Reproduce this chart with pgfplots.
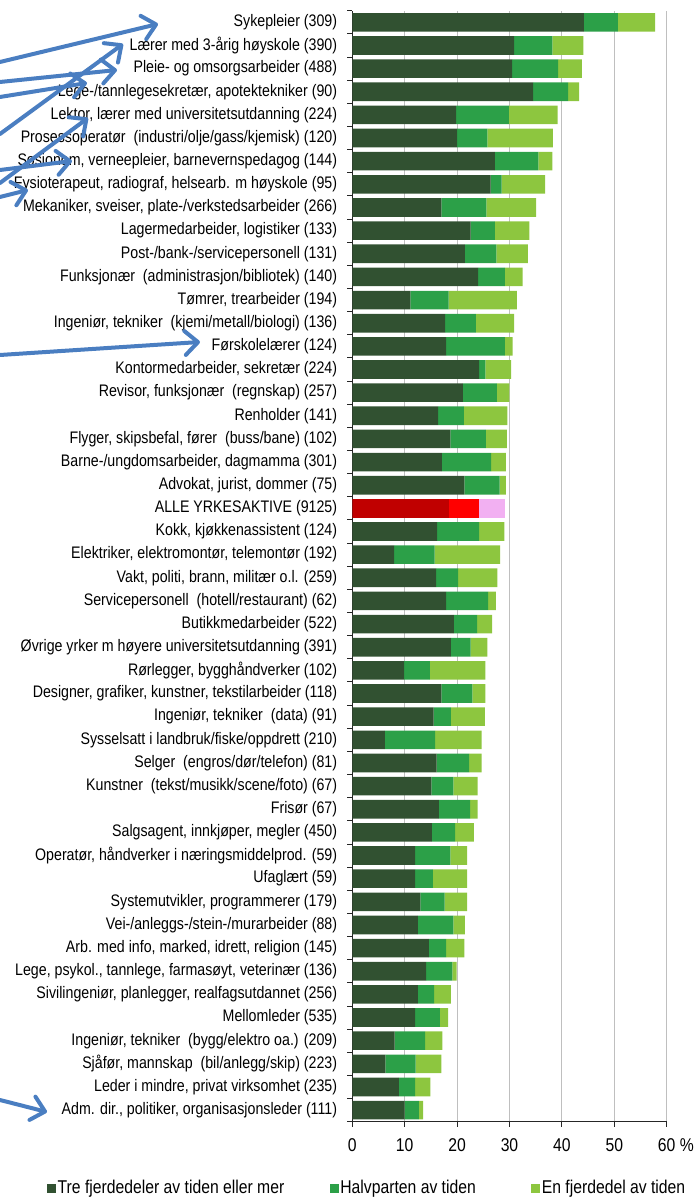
\documentclass[border=0pt]{standalone}
\usepackage{pgfplots}
\pgfplotsset{compat=1.18}
\usepackage{pgfplotstable}
\usepackage{fontspec}
\setmainfont{Liberation Sans}
\newfontfamily\labfont{Liberation Sans}[FakeStretch=0.85]
\usetikzlibrary{arrows.meta}

\definecolor{dg}{RGB}{49,81,49}
\definecolor{mg}{RGB}{44,160,72}
\definecolor{lg}{RGB}{141,198,63}
\definecolor{rd}{RGB}{192,0,0}
\definecolor{rr}{RGB}{255,0,0}
\definecolor{pk}{RGB}{242,176,242}
\definecolor{ab}{RGB}{74,126,193}

\pgfplotstableread{
y a b c r1 r2 r3
0 10.0 2.7 0.8 0 0 0
1 8.9 3.1 2.9 0 0 0
2 6.3 5.8 4.9 0 0 0
3 8.1 5.8 3.3 0 0 0
4 12.0 4.7 1.6 0 0 0
5 12.5 3.1 3.2 0 0 0
6 14.1 5.0 0.8 0 0 0
7 14.6 3.3 3.5 0 0 0
8 12.5 6.8 2.2 0 0 0
9 13.0 4.6 4.3 0 0 0
10 12.0 3.4 6.5 0 0 0
11 12.0 6.7 3.2 0 0 0
12 15.2 4.4 3.6 0 0 0
13 16.5 6.0 1.4 0 0 0
14 15.1 4.2 4.6 0 0 0
15 16.1 6.2 2.4 0 0 0
16 6.2 9.6 8.9 0 0 0
17 15.5 3.3 6.5 0 0 0
18 17.0 5.9 2.5 0 0 0
19 9.9 4.9 10.6 0 0 0
20 18.8 3.8 3.2 0 0 0
21 19.4 4.4 2.9 0 0 0
22 17.9 8.0 1.5 0 0 0
23 16.0 4.2 7.5 0 0 0
24 8.0 7.7 12.5 0 0 0
25 16.2 8.0 4.8 0 0 0
26 0 0 0 18.4 5.8 5.0
27 21.4 6.7 1.2 0 0 0
28 17.1 9.4 2.8 0 0 0
29 18.7 6.8 4.0 0 0 0
30 16.4 4.9 8.3 0 0 0
31 21.1 6.5 2.4 0 0 0
32 24.2 1.2 4.9 0 0 0
33 17.9 11.2 1.5 0 0 0
34 17.7 5.9 7.3 0 0 0
35 11.1 7.3 13.0 0 0 0
36 24.0 5.1 3.4 0 0 0
37 21.5 6.0 6.0 0 0 0
38 22.6 4.6 6.6 0 0 0
39 17.0 8.6 9.5 0 0 0
40 26.4 2.1 8.3 0 0 0
41 27.2 8.3 2.7 0 0 0
42 20.0 5.8 12.5 0 0 0
43 19.8 10.1 9.3 0 0 0
44 34.5 6.7 2.1 0 0 0
45 30.5 8.8 4.5 0 0 0
46 30.9 7.3 5.9 0 0 0
47 44.2 6.5 7.1 0 0 0
}\data

\begin{document}
\begin{tikzpicture}
\begin{axis}[
  at={(352.3pt,80.3pt)}, anchor=south west,
  scale only axis, width=314.4pt, height=1111pt,
  xbar stacked, bar width=18.6pt,
  xmin=0, xmax=60, ymin=-0.5, ymax=47.5, enlargelimits=false,
  xtick={0,10,...,60},
  xticklabels={0,10,20,30,40,50,{60\rlap{ \%}}},
  ytick={0,...,47},
  yticklabels={
{Adm. dir., politiker, organisasjonsleder (111)},
{Leder i mindre, privat virksomhet (235)},
{Sjåfør, mannskap~ (bil/anlegg/skip) (223)},
{Ingeniør, tekniker~ (bygg/elektro oa.) (209)},
{Mellomleder (535)},
{Sivilingeniør, planlegger, realfagsutdannet (256)},
{Lege, psykol., tannlege, farmasøyt, veterinær (136)},
{Arb. med info, marked, idrett, religion (145)},
{Vei-/anleggs-/stein-/murarbeider (88)},
{Systemutvikler, programmerer (179)},
{Ufaglært (59)},
{Operatør, håndverker i næringsmiddelprod. (59)},
{Salgsagent, innkjøper, megler (450)},
{Frisør (67)},
{Kunstner~ (tekst/musikk/scene/foto) (67)},
{Selger~ (engros/dør/telefon) (81)},
{Sysselsatt i landbruk/fiske/oppdrett (210)},
{Ingeniør, tekniker~ (data) (91)},
{Designer, grafiker, kunstner, tekstilarbeider (118)},
{Rørlegger, bygghåndverker (102)},
{Øvrige yrker m høyere universitetsutdanning (391)},
{Butikkmedarbeider (522)},
{Servicepersonell~ (hotell/restaurant) (62)},
{Vakt, politi, brann, militær o.l. (259)},
{Elektriker, elektromontør, telemontør (192)},
{Kokk, kjøkkenassistent (124)},
{ALLE YRKESAKTIVE (9125)},
{Advokat, jurist, dommer (75)},
{Barne-/ungdomsarbeider, dagmamma (301)},
{Flyger, skipsbefal, fører~ (buss/bane) (102)},
{Renholder (141)},
{Revisor, funksjonær~ (regnskap) (257)},
{Kontormedarbeider, sekretær (224)},
{Førskolelærer (124)},
{Ingeniør, tekniker~ (kjemi/metall/biologi) (136)},
{Tømrer, trearbeider (194)},
{Funksjonær~ (administrasjon/bibliotek) (140)},
{Post-/bank-/servicepersonell (131)},
{Lagermedarbeider, logistiker (133)},
{Mekaniker, sveiser, plate-/verkstedsarbeider (266)},
{Fysioterapeut, radiograf, helsearb. m høyskole (95)},
{Sosionom, verneepleier, barnevernspedagog (144)},
{Prosessoperatør~ (industri/olje/gass/kjemisk) (120)},
{Lektor, lærer med universitetsutdanning (224)},
{Lege-/tannlegesekretær, apotektekniker (90)},
{Pleie- og omsorgsarbeider (488)},
{Lærer med 3-årig høyskole (390)},
{Sykepleier (309)}},
  minor ytick={-0.5,0.5,...,47.5},
  axis lines*=left,
  axis line style={black!85, line width=1pt, -},
  tick align=outside, tick pos=left,
  major tick length=5pt, minor tick length=5pt,
  tick style={black!85, line width=0.9pt},
  every major y tick/.append style={draw=none},
  xmajorgrids,
  major grid style={draw=black!25, line width=0.9pt},
  yticklabel style={font=\fontsize{16.7}{18}\labfont, anchor=east, inner sep=0pt, xshift=-10pt},
  xticklabel style={font=\fontsize{18.5}{20}\labfont, anchor=north, inner sep=0pt, yshift=-12pt},
  legend columns=3,
  legend style={at={(axis description cs:-0.971,-0.0597)}, anchor=west, draw=none, fill=none,
     inner sep=0pt, font=\fontsize{18.5}{20}\labfont, nodes={inner sep=1.5pt}},
  legend image code/.code={\draw[#1,draw=none] (0pt,-4.5pt) rectangle (9pt,4.5pt);},
]
\addplot[fill=dg, draw=none] table[x=a,y=y]{\data};
\addplot[fill=mg, draw=none] table[x=b,y=y]{\data};
\addplot[fill=lg, draw=none] table[x=c,y=y]{\data};
\addplot[fill=rd, draw=none, forget plot] table[x=r1,y=y]{\data};
\addplot[fill=rr, draw=none, forget plot] table[x=r2,y=y]{\data};
\addplot[fill=pk, draw=none, forget plot] table[x=r3,y=y]{\data};
\addlegendentry{Tre fjerdedeler av tiden eller mer\kern44pt\relax}
\addlegendentry{Halvparten av tiden\kern54pt\relax}
\addlegendentry{En fjerdedel av tiden}
\end{axis}
\begin{scope}[draw=ab, line width=4pt, line cap=round, -{Straight Barb[length=13pt,width=24pt,round]}]
\draw (0pt,1140pt) -- (158pt,1178pt);
\draw (0pt,1068pt) -- (123pt,1158pt);
\draw (0pt,1120pt) -- (117pt,1132pt);
\draw (0pt,1105pt) -- (87pt,1119pt);
\draw (0pt,1019pt) -- (88pt,1084pt);
\draw (0pt,1032pt) -- (72pt,1041pt);
\draw (0pt,1005pt) -- (28pt,1012pt);
\draw (0pt,847pt) -- (200pt,860pt);
\draw (0pt,102pt) -- (47pt,90pt);
\end{scope}
\pgfresetboundingbox
\path[use as bounding box] (0pt,0pt) rectangle (697pt,1202pt);
\end{tikzpicture}
\end{document}
